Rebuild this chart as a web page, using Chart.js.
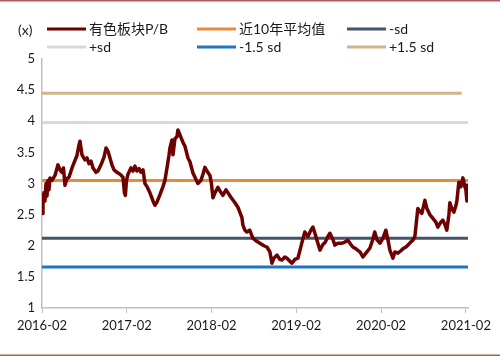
<!DOCTYPE html>
<html><head><meta charset="utf-8">
<script src="https://cdn.jsdelivr.net/npm/chart.js@4.4.0/dist/chart.umd.min.js"></script>
<style>html,body{margin:0;padding:0;background:#fff;} #wrap{width:500px;height:357px;position:relative;}</style>
</head><body><div id="wrap"><canvas id="c" width="500" height="357"></canvas></div>
<script>
// months since 2016-02
const monthOffsets = [0,0.14,0.28,0.42,0.57,0.71,0.85,0.99,1.13,1.42,1.84,2.26,2.55,2.83,3.04,3.25,3.54,3.82,4.25,4.67,4.95,5.24,5.38,5.66,6.08,6.37,6.65,6.93,7.22,7.64,7.92,8.35,8.77,9.06,9.34,9.62,9.9,10.19,10.61,11.04,11.46,11.67,11.8,11.96,12.17,12.59,12.88,13.16,13.44,13.73,14.0,14.3,14.57,14.86,15.28,15.71,15.99,16.27,16.7,17.12,17.4,17.69,17.97,18.11,18.4,18.54,18.82,19.1,19.24,19.53,19.95,20.23,20.66,20.94,21.37,21.65,22.07,22.5,22.78,23.06,23.35,23.77,23.98,24.2,24.48,24.9,25.19,25.6,26.04,26.32,26.74,27.31,27.73,28.0,28.3,28.44,28.72,29.0,29.4,29.86,30.28,30.85,31.41,31.84,32.26,32.55,32.83,33.25,33.68,33.96,34.38,34.67,35.09,35.38,35.8,36.22,36.5,36.79,37.2,37.64,38.06,38.35,38.63,38.92,39.34,39.76,40.05,40.47,40.75,41.18,41.46,41.88,42.45,42.87,43.3,43.72,44.0,44.43,45.0,45.42,45.85,46.4,46.83,47.1,47.4,47.83,48.25,48.67,48.96,49.24,49.67,49.95,50.37,50.8,51.08,51.51,51.79,52.21,52.5,52.78,52.92,53.2,53.5,53.77,54.2,54.48,54.9,55.33,55.75,56.03,56.46,56.74,57.0,57.3,57.6,57.73,58.0,58.3,58.6,58.73,59.0,59.3,59.58,59.86,60.0,60.14,60.28];
const pbValues = [2.52,2.75,2.85,2.72,3.0,2.8,3.05,2.9,3.09,3.05,3.13,3.30,3.22,3.18,3.25,2.97,3.08,3.1,3.25,3.37,3.45,3.62,3.68,3.46,3.38,3.41,3.32,3.36,3.25,3.18,3.2,3.3,3.42,3.57,3.52,3.41,3.3,3.22,3.18,3.15,3.1,2.85,2.81,3.05,3.15,3.25,3.2,3.28,3.2,3.24,3.18,3.22,3.0,2.95,2.85,2.72,2.65,2.7,2.82,2.95,3.05,3.25,3.45,3.57,3.7,3.46,3.72,3.75,3.86,3.78,3.66,3.6,3.41,3.35,3.17,3.1,3.0,3.05,3.15,3.26,3.2,3.13,3.0,2.77,2.85,2.94,2.88,2.81,2.9,2.85,2.78,2.69,2.62,2.54,2.45,2.33,2.25,2.22,2.25,2.12,2.08,2.04,2.0,1.98,1.9,1.72,1.8,1.85,1.78,1.77,1.82,1.80,1.75,1.72,1.78,1.80,1.92,2.05,2.22,2.15,2.25,2.30,2.2,2.09,1.93,2.02,2.05,2.15,2.2,2.1,2.01,2.04,2.04,2.06,2.09,2.02,1.98,1.95,1.90,1.82,1.88,1.96,2.1,2.22,2.1,2.04,2.12,2.25,2.1,1.93,1.80,1.9,1.88,1.92,1.95,1.98,2.01,2.06,2.09,2.15,2.30,2.6,2.55,2.52,2.73,2.6,2.5,2.44,2.38,2.30,2.38,2.41,2.35,2.25,2.5,2.69,2.6,2.54,2.65,2.72,3.02,2.95,3.09,2.95,2.9,2.72,3.0];
const xTickLabels = ['2016-02','2017-02','2018-02','2019-02','2020-02','2021-02'];
const xTickMonths = [0,12,24,36,48,60];
const seriesNames = ['有色板块P/B','近10年平均值','-sd','+sd','-1.5 sd','+1.5 sd'];
const refValues = {mean:3.05, minusSd:2.12, plusSd:3.98, minus15Sd:1.66, plus15Sd:4.45};
const xMax = 60.3;

Chart.defaults.font.family = "Lato, 'Noto Sans CJK SC', sans-serif";
Chart.defaults.color = '#1a1a1a';

const pbPoints = monthOffsets.map((m,i)=>({x:m,y:pbValues[i]}));
function flat(v,end){return [{x:0,y:v},{x:end,y:v}];}
const colors = ['#6e0000','#E8893C','#44546A','#D9D9D9','#1F75BE','#D2B48C'];
const datasets = [
  {label:seriesNames[0], data:pbPoints, borderColor:colors[0], borderWidth:3.5, order:0},
  {label:seriesNames[1], data:flat(refValues.mean,xMax), borderColor:colors[1], borderWidth:3, order:1},
  {label:seriesNames[2], data:flat(refValues.minusSd,xMax), borderColor:colors[2], borderWidth:3, order:2},
  {label:seriesNames[3], data:flat(refValues.plusSd,xMax), borderColor:colors[3], borderWidth:3, order:3},
  {label:seriesNames[4], data:flat(refValues.minus15Sd,xMax), borderColor:colors[4], borderWidth:3, order:4},
  {label:seriesNames[5], data:flat(refValues.plus15Sd,59.4), borderColor:colors[5], borderWidth:3, order:5}
];
datasets.forEach(d=>{d.pointRadius=0;d.tension=0;d.fill=false;d.borderJoinStyle='round';});

const legendPlugin = {
  id:'customLegend',
  afterDraw(chart){
    const ctx = chart.ctx;
    ctx.save();
    ctx.fillStyle = '#b5585a';
    ctx.fillRect(0,0,500,1.5);
    ctx.fillRect(0,354.5,500,1.5);
    ctx.font = "14px Lato, 'Noto Sans CJK SC', sans-serif";
    ctx.textBaseline = 'middle';
    ctx.fillStyle = '#1a1a1a';
    ctx.fillText('(x)', 18, 30);
    const cols=[47,197,347], rows=[29,47];
    chart.data.datasets.forEach((d,i)=>{
      const cx = cols[i%3], cy = rows[Math.floor(i/3)];
      ctx.strokeStyle = d.borderColor; ctx.lineWidth = 3;
      ctx.beginPath(); ctx.moveTo(cx,cy); ctx.lineTo(cx+39,cy); ctx.stroke();
      ctx.fillStyle = '#1a1a1a';
      ctx.fillText(d.label, cx+42, cy);
    });
    ctx.restore();
  }
};

new Chart(document.getElementById('c'), {
  type:'line',
  data:{datasets},
  plugins:[legendPlugin],
  options:{
    responsive:false, animation:false, devicePixelRatio:1,
    layout:{padding:{left:0,top:59,right:32,bottom:19}},
    plugins:{legend:{display:false},tooltip:{enabled:false}},
    scales:{
      x:{type:'linear',min:0,max:xMax,
        afterBuildTicks(s){s.ticks = xTickMonths.map(v=>({value:v}));},
        afterFit(s){s.height=30;},
        ticks:{autoSkip:false,maxRotation:0,padding:5,font:{size:13},color:'#1a1a1a',
          callback(v){const i=xTickMonths.indexOf(v);return i>=0?xTickLabels[i]:'';}},
        grid:{drawOnChartArea:false,drawTicks:true,tickLength:5,color:'#bfbfbf'},
        border:{display:true,color:'#bfbfbf',width:1.5}
      },
      y:{min:1,max:5,
        afterFit(s){s.width=42;},
        ticks:{stepSize:0.5,padding:7,font:{size:13},color:'#1a1a1a',callback(v){return String(v);}},
        grid:{display:false,drawTicks:false},
        border:{display:true,color:'#bfbfbf',width:1.5}
      }
    }
  }
});
</script></body></html>
